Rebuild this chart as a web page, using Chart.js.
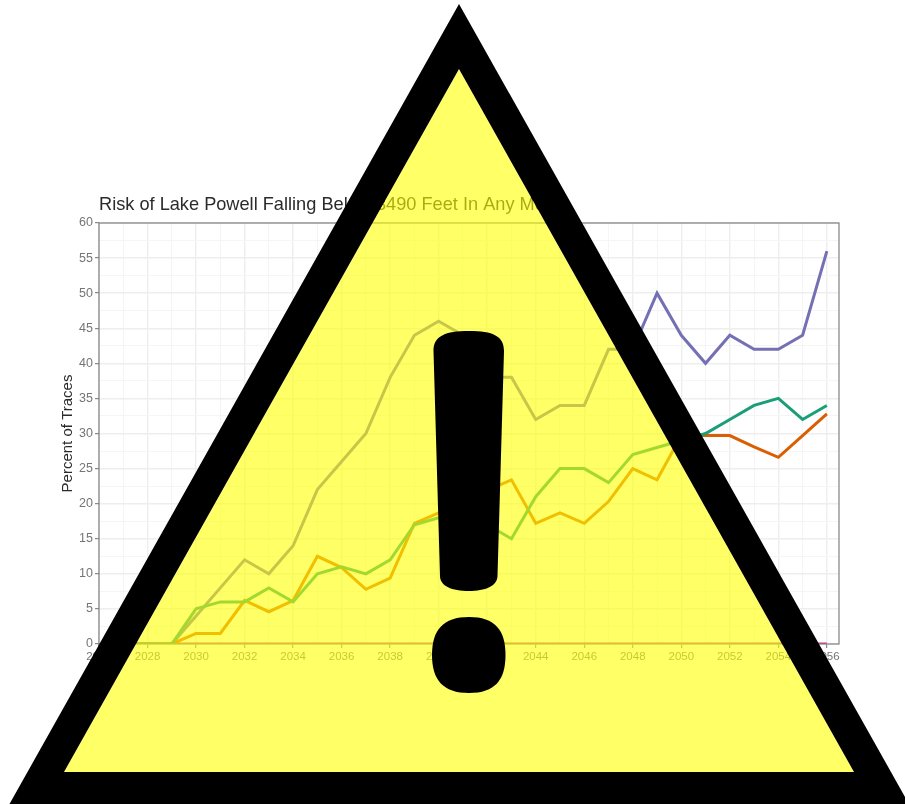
<!DOCTYPE html>
<html>
<head>
<meta charset="utf-8">
<title>Risk of Lake Powell Falling Below 3490 Feet</title>
<script src="https://cdn.jsdelivr.net/npm/chart.js@4"></script>
<style>
	html, body { margin: 0; padding: 0; background: #fff; overflow: hidden; }
	#wrap { position: relative; width: 905px; height: 805px; }
	#mycanvas { position: absolute; left: 0; top: 0; filter: blur(0.5px); }
	#warning { position: absolute; left: 0; top: 0; }
</style>
</head>
<body>
<div id="wrap">
	<canvas id="mycanvas" width="905" height="805"></canvas>
	<!-- warning sign laid over the chart -->
	<svg id="warning" width="905" height="805" viewBox="0 0 905 805">
		<path fill="#ffff00" fill-opacity="0.6" d="M459 69 L854 772 L64 772 Z"/>
		<path fill="#000" fill-rule="evenodd" d="M459 4 L909 804 L9.5 804 Z M459 69 L64 772 L854 772 Z"/>
		<path fill="#000" d="M433.5 351 C433.5 336 445 331 469 331 C493 331 504 336 504 351 L497.5 576 C497.5 586 485 591 469 591 C452 591 440 586 440 576 Z"/>
		<path fill="#000" d="M469 617 C495 617 505.5 630 505.5 655 C505.5 680 495 693 469 693 C443 693 432 680 432 655 C432 630 443 617 469 617 Z"/>
	</svg>
</div>
<script>
var years = [2027, 2028, 2029, 2030, 2031, 2032, 2033, 2034, 2035, 2036, 2037, 2038, 2039, 2040, 2041, 2042, 2043, 2044, 2045, 2046, 2047, 2048, 2049, 2050, 2051, 2052, 2053, 2054, 2055, 2056];
var purpleSeries = [0, 0, 0, 4, 8, 12, 10, 14, 22, 26, 30, 38, 44, 46, 44, 38, 38, 32, 34, 34, 42, 42, 50, 44, 40, 44, 42, 42, 44, 56];
var tealSeries = [0, 0, 0, 5, 6, 6, 8, 6, 10, 11, 10, 12, 17, 18, 18, 17, 15, 21, 25, 25, 23, 27, 28, 29, 30, 32, 34, 35, 32, 34];
var orangeSeries = [0, 0, 0, 1.5, 1.5, 6.2, 4.6, 6.2, 12.5, 10.9, 7.8, 9.4, 17.2, 18.7, 20, 21.9, 23.4, 17.2, 18.7, 17.2, 20.3, 25, 23.4, 29.7, 29.7, 29.7, 28.1, 26.6, 29.7, 32.8];
var pinkSeries = [0, 0, 0, 0, 0, 0, 0, 0, 0, 0, 0, 0, 0, 0, 0, 0, 0, 0, 0, 0, 0, 0, 0, 0, 0, 0, 0, 0, 0, 0];

function points(values) {
	return values.map(function(v, i) {
		return { x: years[i], y: v };
	});
}

function line(values, color) {
	return {
		data: points(values),
		borderColor: color,
		backgroundColor: color,
		borderWidth: 3,
		pointRadius: 0,
		tension: 0,
		fill: false
	};
}

// ggplot style panel border, the axes only give left and bottom
var panelBorder = {
	id: 'panelBorder',
	afterDatasetsDraw: function(chart) {
		var a = chart.chartArea, c = chart.ctx;
		c.save();
		c.strokeStyle = '#808080';
		c.lineWidth = 1.2;
		c.strokeRect(a.left, a.top, a.right - a.left, a.bottom - a.top);
		c.restore();
	}
};

var ctx = document.getElementById('mycanvas');

var LineGraph = new Chart(ctx, {
	type: 'line',
	plugins: [panelBorder],
	data: {
		datasets: [
			line(tealSeries, '#1b9e77'),
			line(orangeSeries, '#d95f02'),
			line(purpleSeries, '#7570b3'),
			line(pinkSeries, '#e7298a')
		]
	},
	options: {
		responsive: false,
		animation: false,
		layout: { padding: { top: 194.5, right: 66, bottom: 0, left: 0 } },
		plugins: {
			legend: { display: false },
			tooltip: { enabled: false },
			title: {
				display: true,
				text: 'Risk of Lake Powell Falling Below 3490 Feet In Any Month',
				align: 'start',
				fullSize: false,
				color: '#2b2b2b',
				font: { family: 'Liberation Sans', size: 18.2, weight: 'normal', lineHeight: 1.2 },
				padding: { top: 0, bottom: 6.66 }
			}
		},
		scales: {
			x: {
				type: 'linear',
				min: 2026,
				max: 2056.5,
				afterFit: function(scale) { scale.height = 161; },
				grid: {
					color: function(c) { return c.tick.value % 2 === 0 ? '#eeeeee' : '#f5f5f5'; },
					lineWidth: function(c) { return c.tick.value % 2 === 0 ? 1.4 : 1; },
					tickColor: function(c) { return c.tick.value % 2 === 0 ? '#707070' : 'rgba(0,0,0,0)'; },
					tickWidth: 1,
					tickLength: 4
				},
				border: { display: false },
				ticks: {
					stepSize: 1,
					includeBounds: false,
					autoSkip: false,
					maxRotation: 0,
					padding: 2,
					color: '#757575',
					font: { family: 'Liberation Sans', size: 11.5 },
					callback: function(v) { return v % 2 === 0 ? String(v) : ''; }
				}
			},
			y: {
				min: 0,
				max: 60,
				afterFit: function(scale) { scale.width = 99; },
				grid: {
					color: function(c) { return c.tick.value % 5 === 0 ? '#eeeeee' : '#f5f5f5'; },
					lineWidth: function(c) { return c.tick.value % 5 === 0 ? 1.4 : 1; },
					tickColor: function(c) { return c.tick.value % 5 === 0 ? '#707070' : 'rgba(0,0,0,0)'; },
					tickWidth: 1,
					tickLength: 4
				},
				border: { display: false },
				ticks: {
					stepSize: 2.5,
					autoSkip: false,
					padding: 2,
					color: '#757575',
					font: { family: 'Liberation Sans', size: 12.5 },
					callback: function(v) { return v % 5 === 0 ? String(v) : ''; }
				},
				title: {
					display: true,
					text: 'Percent of Traces',
					color: '#2b2b2b',
					font: { family: 'Liberation Sans', size: 15, lineHeight: 1.2 },
					padding: { top: 59, bottom: 0 }
				}
			}
		}
	}
});
</script>
</body>
</html>
